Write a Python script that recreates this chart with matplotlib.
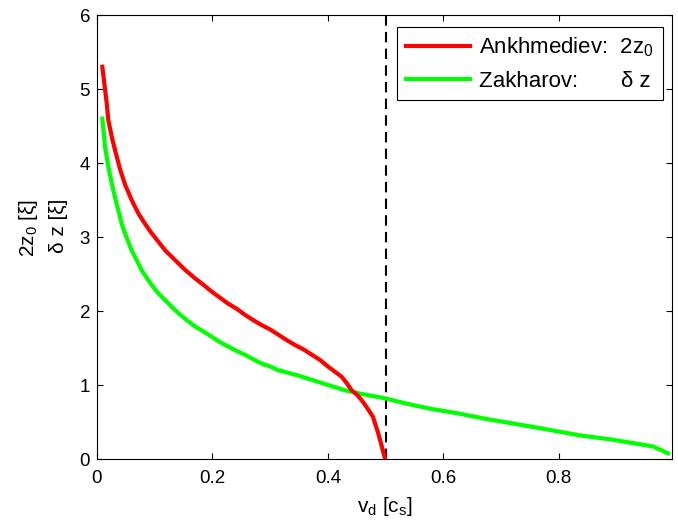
import matplotlib
matplotlib.use("Agg")
import matplotlib.pyplot as plt

plt.rcParams['font.family'] = ['Liberation Sans', 'DejaVu Sans']
plt.rcParams['mathtext.fontset'] = 'custom'
plt.rcParams['mathtext.rm'] = 'Liberation Sans'
plt.rcParams['mathtext.it'] = 'Liberation Sans'
plt.rcParams['mathtext.default'] = 'regular'

# Ankhmediev: 2z0 vs v_d
ank_x = [0.0092, 0.0126, 0.0168, 0.0196, 0.0254, 0.031, 0.0398, 0.0485, 0.060, 0.0715,
         0.083, 0.0947, 0.106, 0.118, 0.135, 0.152, 0.170, 0.185, 0.199, 0.213,
         0.227, 0.242, 0.256, 0.270, 0.285, 0.300, 0.314, 0.328, 0.343, 0.358,
         0.372, 0.386, 0.400, 0.412, 0.424, 0.433, 0.441, 0.450, 0.458, 0.468,
         0.478, 0.487, 0.493, 0.499]
ank_y = [5.30, 5.08, 4.81, 4.58, 4.36, 4.18, 3.92, 3.71, 3.50, 3.32,
         3.18, 3.05, 2.94, 2.82, 2.69, 2.56, 2.44, 2.35, 2.26, 2.18,
         2.10, 2.03, 1.95, 1.88, 1.81, 1.75, 1.68, 1.61, 1.54, 1.48,
         1.41, 1.34, 1.25, 1.18, 1.11, 1.02, 0.93, 0.87, 0.80, 0.69,
         0.57, 0.35, 0.18, 0.0]

# Zakharov: delta z vs v_d
zak_x = [0.0092, 0.0139, 0.0196, 0.0254, 0.031, 0.0428, 0.0485, 0.060, 0.0774, 0.092,
         0.106, 0.124, 0.141, 0.155, 0.170, 0.185, 0.199, 0.213, 0.227, 0.242,
         0.256, 0.270, 0.285, 0.300, 0.314, 0.343, 0.372, 0.400, 0.429, 0.458,
         0.499, 0.535, 0.577, 0.623, 0.675, 0.721, 0.779, 0.836, 0.894, 0.940,
         0.963, 0.989]
zak_y = [4.60, 4.22, 3.95, 3.73, 3.54, 3.18, 3.05, 2.82, 2.55, 2.38,
         2.24, 2.10, 1.97, 1.88, 1.79, 1.72, 1.65, 1.58, 1.52, 1.46,
         1.41, 1.35, 1.29, 1.25, 1.20, 1.14, 1.07, 1.00, 0.93, 0.88,
         0.82, 0.75, 0.68, 0.62, 0.54, 0.48, 0.40, 0.32, 0.26, 0.20,
         0.17, 0.077]

vline_x = 0.5
x_ticks = [0, 0.2, 0.4, 0.6, 0.8]
x_tick_labels = ['0', '0.2', '0.4', '0.6', '0.8']
y_ticks = [0, 1, 2, 3, 4, 5, 6]

fig = plt.figure(figsize=(6.78, 5.27), dpi=100)
ax = fig.add_axes([97 / 678, 68 / 527, 575 / 678, 444 / 527])

ax.axvline(vline_x, color='black', lw=1.5, linestyle=(0, (5, 3)), zorder=1)
ax.plot(ank_x, ank_y, color='#ff0000', lw=3,
        label='Ankhmediev:  2z$_0$', zorder=3)
ax.plot(zak_x, zak_y, color='#00ff00', lw=3,
        label='Zakharov:       ' + 'δ z', zorder=2)

ax.set_xlim(0, 0.996)
ax.set_ylim(0, 6)
ax.set_xticks(x_ticks)
ax.set_xticklabels(x_tick_labels)
ax.set_yticks(y_ticks)
ax.tick_params(direction='in', length=4.5, width=0.8, labelsize=13.5,
               top=True, right=True)
ax.tick_params(axis='x', pad=8)
ax.tick_params(axis='y', pad=5)
for s in ax.spines.values():
    s.set_linewidth(0.8)

ax.set_xlabel('v$_d$ [c$_s$]', fontsize=15)
ax.xaxis.set_label_coords(0.5, -0.082)
ax.set_ylabel('2z$_0$ [ξ]\nδ z [ξ]', fontsize=15, linespacing=1.6,
              multialignment='right')
ax.yaxis.set_label_coords(-0.05, 0.52)

leg = ax.legend(loc='upper right', fontsize=16, frameon=True, fancybox=False,
                edgecolor='black', framealpha=1, handlelength=2.9,
                borderpad=0.4, labelspacing=0.5, handletextpad=0.4,
                borderaxespad=0.0,
                bbox_to_anchor=(0.984, 0.973))
leg.get_frame().set_linewidth(0.8)

fig.savefig('out.png', dpi=100)
